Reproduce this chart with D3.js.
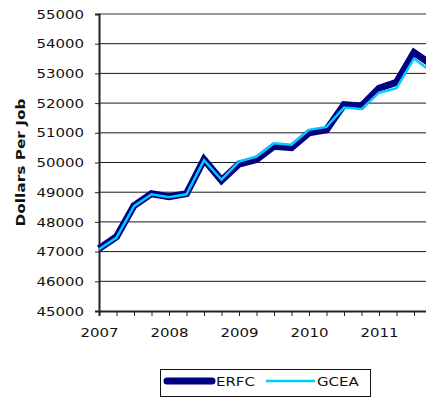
<!DOCTYPE html>
<html>
<head>
<meta charset="utf-8">
<script src="https://cdn.jsdelivr.net/npm/d3@7"></script>
<style>
  html, body { margin: 0; padding: 0; background: #fff; overflow: hidden; }
  svg { display: block; }
  text { font-family: "DejaVu Sans", Verdana, sans-serif; fill: #111; }
</style>
</head>
<body>
<svg id="chart" width="426" height="400"></svg>
<script>
// Quarterly periods, as decimal years
const periods = [
  2007, 2007.25, 2007.5, 2007.75,
  2008, 2008.25, 2008.5, 2008.75,
  2009, 2009.25, 2009.5, 2009.75,
  2010, 2010.25, 2010.5, 2010.75,
  2011, 2011.25, 2011.5, 2011.75
];

// Average earnings per job (dollars)
const erfc = [
  47100, 47500, 48550, 48950,
  48850, 48950, 50100, 49400,
  49950, 50100, 50550, 50500,
  51000, 51100, 51950, 51900,
  52500, 52700, 53700, 53300
];
const gcea = [
  47080, 47470, 48530, 48930,
  48830, 48930, 50080, 49420,
  50030, 50200, 50650, 50600,
  51100, 51200, 51850, 51800,
  52350, 52500, 53500, 53050
];

const seriesNames = ["ERFC", "GCEA"];
const yTicks = [45000, 46000, 47000, 48000, 49000, 50000, 51000, 52000, 53000, 54000, 55000];
const yearTicks = [2007, 2008, 2009, 2010, 2011];
const yLabel = "Dollars Per Job";

const svg = d3.select("#chart");
const stretch = 1.15;

const x = d3.scaleLinear().domain([2007, 2012]).range([99, 449]);
const y = d3.scaleLinear().domain([45000, 55000]).range([311, 14]);

// Horizontal gridlines
svg.append("g")
  .selectAll("line")
  .data(yTicks.slice(1, -1))
  .join("line")
  .attr("x1", x(2007)).attr("x2", 426)
  .attr("y1", d => y(d)).attr("y2", d => y(d))
  .attr("stroke", "#1a1a1a").attr("stroke-width", 1);

// Top border of the plot area
svg.append("line")
  .attr("x1", x(2007)).attr("x2", 426)
  .attr("y1", y(55000)).attr("y2", y(55000))
  .attr("stroke", "#999").attr("stroke-width", 2);

// Y axis
const yAxis = svg.append("g")
  .attr("transform", `translate(${x(2007)},0)`)
  .call(d3.axisLeft(y).tickValues(yTicks).tickSize(4).tickPadding(9).tickFormat(d3.format("d")));
yAxis.select(".domain").attr("stroke", "#222").attr("stroke-width", 2);
yAxis.selectAll(".tick line").attr("stroke", "#222");
yAxis.selectAll("text")
  .style("font-size", "13px")
  .attr("fill", "#111")
  .attr("transform", `scale(${stretch},1)`);

// X axis: quarter ticks, year labels
const quarterTicks = d3.range(0, 20).map(i => 2007 + i * 0.25);
const xAxis = svg.append("g")
  .attr("transform", `translate(0,${y(45000)})`)
  .call(d3.axisBottom(x).tickValues(quarterTicks).tickSize(5).tickPadding(12)
    .tickFormat(d => yearTicks.includes(d) ? String(d) : ""));
xAxis.select(".domain").attr("stroke", "#222").attr("stroke-width", 2);
xAxis.selectAll(".tick line").attr("stroke", "#222");
xAxis.selectAll("text")
  .style("font-size", "13px")
  .attr("fill", "#111")
  .attr("transform", `scale(${stretch},1)`);

// Y axis title
svg.append("text")
  .attr("transform", `translate(25,${(y(45000) + y(55000)) / 2}) rotate(-90) scale(1.18,1)`)
  .attr("text-anchor", "middle")
  .style("font-size", "13px")
  .style("font-weight", "bold")
  .text(yLabel);

// Series lines
const line = d3.line().x(d => x(d[0])).y(d => y(d[1]));
const plot = svg.append("g");
plot.append("path")
  .datum(periods.map((p, i) => [p, erfc[i]]))
  .attr("d", line)
  .attr("fill", "none")
  .attr("stroke", "#000080")
  .attr("stroke-width", 7)
  .attr("stroke-linejoin", "miter");
plot.append("path")
  .datum(periods.map((p, i) => [p, gcea[i]]))
  .attr("d", line)
  .attr("fill", "none")
  .attr("stroke", "#00ccff")
  .attr("stroke-width", 2.5)
  .attr("stroke-linejoin", "miter");

// Legend
const legend = svg.append("g");
legend.append("rect")
  .attr("x", 160.5).attr("y", 369.5)
  .attr("width", 210).attr("height", 27)
  .attr("fill", "#fff").attr("stroke", "#111").attr("stroke-width", 1);
legend.append("line")
  .attr("x1", 167).attr("x2", 212).attr("y1", 381).attr("y2", 381)
  .attr("stroke", "#000080").attr("stroke-width", 7).attr("stroke-linecap", "round");
legend.append("line")
  .attr("x1", 266).attr("x2", 315).attr("y1", 381).attr("y2", 381)
  .attr("stroke", "#00ccff").attr("stroke-width", 2.5);
legend.append("text")
  .attr("transform", `translate(216,386) scale(${stretch},1)`)
  .style("font-size", "13px")
  .text(seriesNames[0]);
legend.append("text")
  .attr("transform", `translate(317,386) scale(${stretch},1)`)
  .style("font-size", "13px")
  .text(seriesNames[1]);
</script>
</body>
</html>
